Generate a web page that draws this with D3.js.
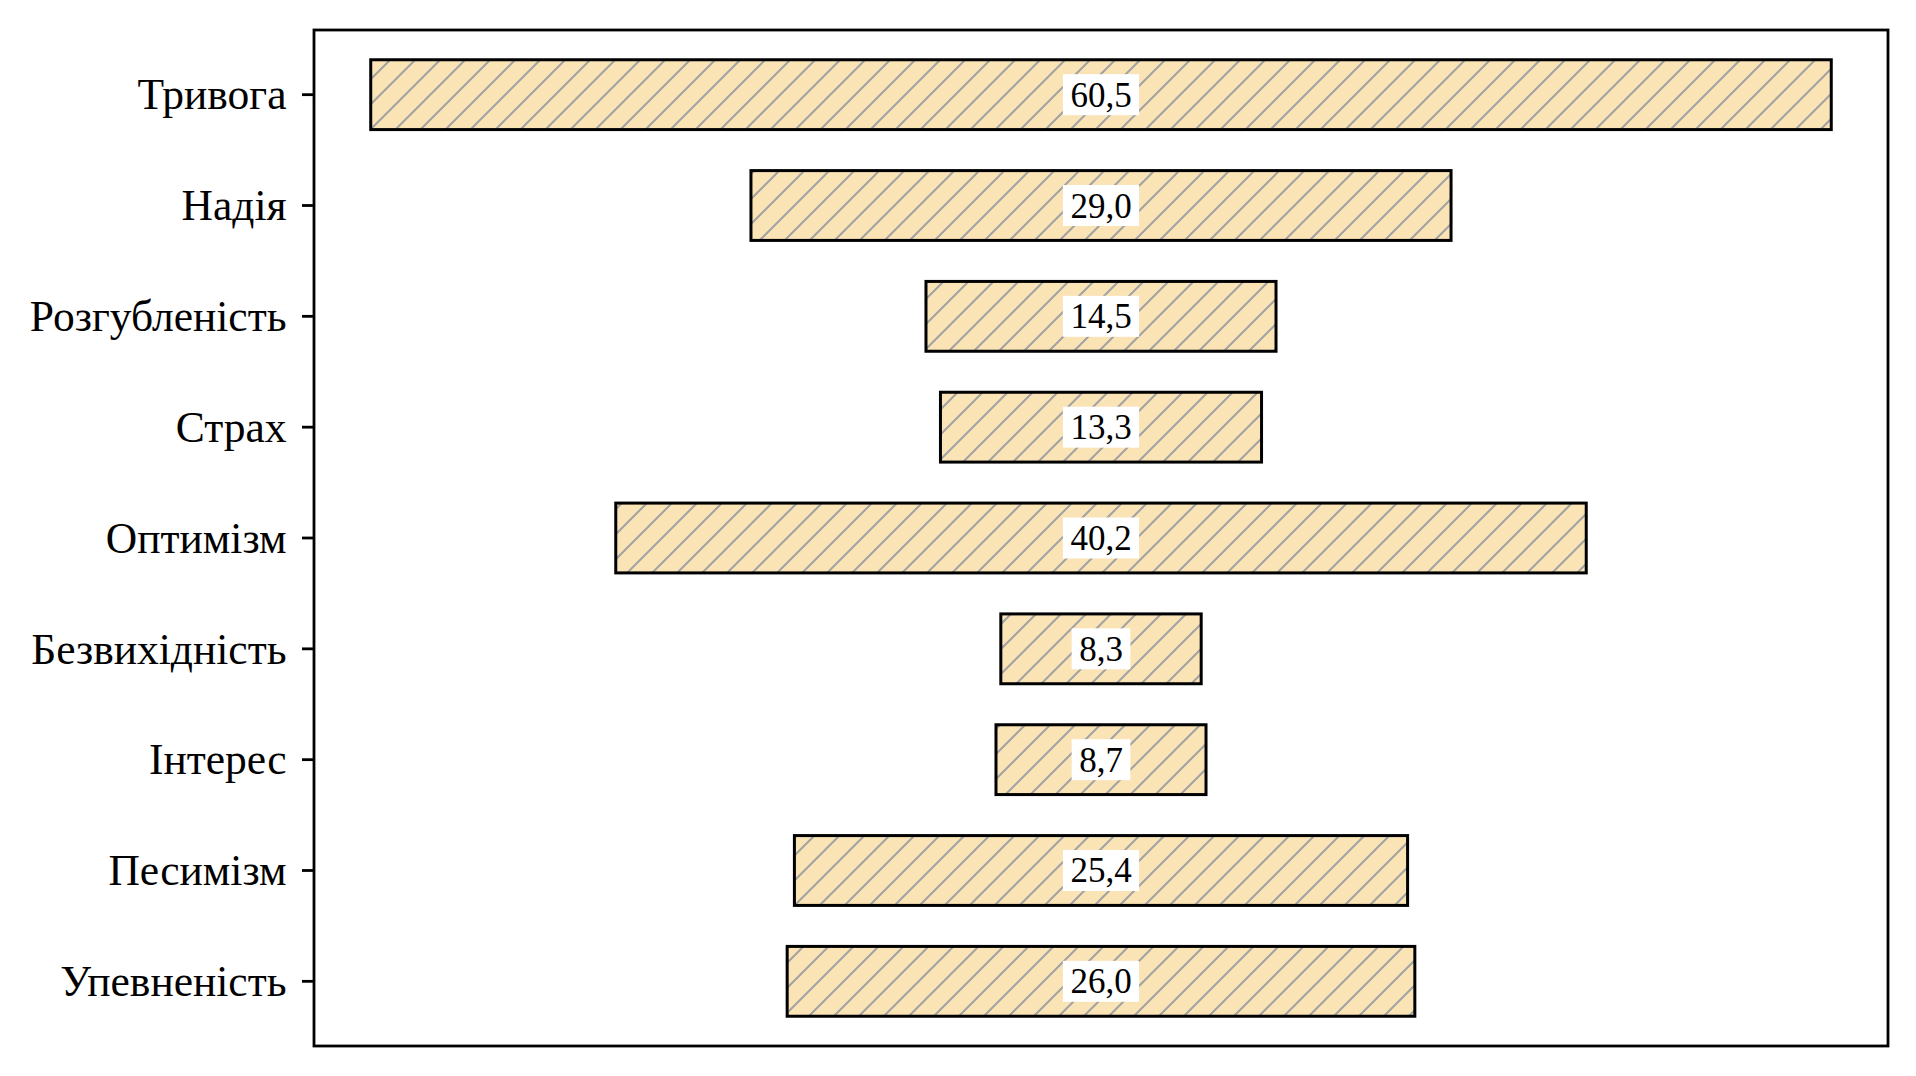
<!DOCTYPE html>
<html>
<head>
<meta charset="utf-8">
<script src="https://cdn.jsdelivr.net/npm/d3@7"></script>
<style>
  html, body { margin: 0; padding: 0; background: #fff; }
  svg { display: block; }
</style>
</head>
<body>
<svg id="chart" width="1916" height="1076"></svg>
<script>
const categories = ["Тривога","Надія","Розгубленість","Страх","Оптимізм","Безвихідність","Інтерес","Песимізм","Упевненість"];
const values = [60.5, 29.0, 14.5, 13.3, 40.2, 8.3, 8.7, 25.4, 26.0];
const xDomain = [-32.6, 32.6];

const W = 1916, H = 1076;
const plot = {left: 314, right: 1888, top: 30, bottom: 1046};
const fontFamily = "'Liberation Serif', 'Times New Roman', serif";

const svg = d3.select("#chart");

const defs = svg.append("defs");
const pat = defs.append("pattern")
  .attr("id", "hatch")
  .attr("patternUnits", "userSpaceOnUse")
  .attr("width", 25).attr("height", 25);
pat.append("path")
  .attr("d", "M-6.25,6.25 L6.25,-6.25 M0,25 L25,0 M18.75,31.25 L31.25,18.75")
  .attr("stroke", "#a2a2a2")
  .attr("stroke-width", 2)
  .attr("fill", "none");

const x = d3.scaleLinear().domain(xDomain).range([plot.left, plot.right]);
const y = d3.scaleBand().domain(categories).range([plot.top, plot.bottom])
  .paddingInner(0.37).paddingOuter(0.2685);

const data = categories.map((c, i) => ({cat: c, val: values[i]}));

const bars = svg.append("g");
bars.selectAll("rect.fill").data(data).join("rect")
  .attr("class", "fill")
  .attr("x", d => x(-d.val / 2))
  .attr("y", d => y(d.cat))
  .attr("width", d => x(d.val / 2) - x(-d.val / 2))
  .attr("height", y.bandwidth())
  .attr("fill", "#fae3b5");
bars.selectAll("rect.hatch").data(data).join("rect")
  .attr("class", "hatch")
  .attr("x", d => x(-d.val / 2))
  .attr("y", d => y(d.cat))
  .attr("width", d => x(d.val / 2) - x(-d.val / 2))
  .attr("height", y.bandwidth())
  .attr("fill", "url(#hatch)")
  .attr("stroke", "#000")
  .attr("stroke-width", 3);

// value labels
const fmt = v => d3.format(".1f")(v).replace(".", ",");
const lab = svg.append("g");
data.forEach(d => {
  const cy = y(d.cat) + y.bandwidth() / 2;
  const g = lab.append("g");
  const r = g.append("rect").attr("fill", "#fff");
  const t = g.append("text")
    .attr("x", x(0))
    .attr("y", cy + 12)
    .attr("text-anchor", "middle")
    .attr("font-family", fontFamily)
    .attr("font-size", 35)
    .attr("fill", "#000")
    .text(fmt(d.val));
  const bb = t.node().getBBox();
  r.attr("x", bb.x - 7.5).attr("width", bb.width + 15)
   .attr("y", cy - 20.5).attr("height", 41);
});

// y axis
const yAxis = d3.axisLeft(y).tickSize(12).tickSizeOuter(0).tickPadding(15.5);
const ag = svg.append("g").attr("transform", `translate(${plot.left},0)`).call(yAxis);
ag.select(".domain").remove();
ag.selectAll(".tick line").attr("stroke", "#000").attr("stroke-width", 2.8);
ag.selectAll(".tick text")
  .attr("font-family", fontFamily)
  .attr("font-size", 43.5)
  .attr("fill", "#000")
  .attr("dy", "0.34em");

// frame
svg.append("rect")
  .attr("x", plot.left).attr("y", plot.top)
  .attr("width", plot.right - plot.left)
  .attr("height", plot.bottom - plot.top)
  .attr("fill", "none")
  .attr("stroke", "#000")
  .attr("stroke-width", 2.8);
</script>
</body>
</html>
